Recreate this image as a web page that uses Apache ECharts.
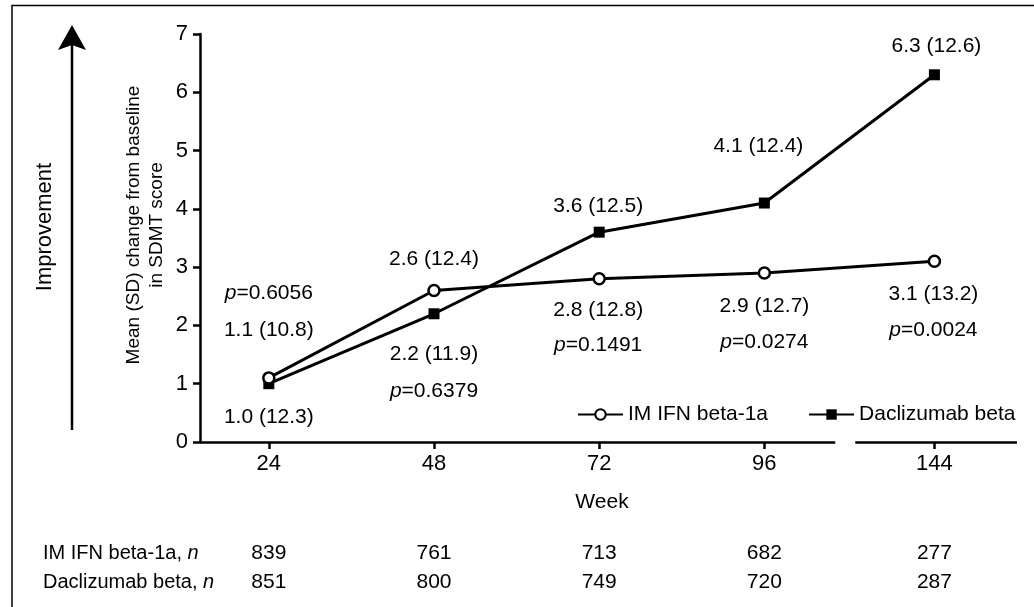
<!DOCTYPE html>
<html>
<head>
<meta charset="utf-8">
<script src="https://cdn.jsdelivr.net/npm/echarts@6/dist/echarts.min.js"></script>
<style>
  html, body { margin: 0; padding: 0; background: #fff; }
  #chart { width: 1034px; height: 607px; }
</style>
</head>
<body>
<div id="chart"></div>
<script>
// SDMT change from baseline by study week
const weeks = [24, 48, 72, 96, 144];
const seriesNames = ['IM IFN beta-1a', 'Daclizumab beta'];
const ifnMean = [1.1, 2.6, 2.8, 2.9, 3.1];
const ifnSD = [10.8, 12.4, 12.8, 12.7, 13.2];
const dacMean = [1.0, 2.2, 3.6, 4.1, 6.3];
const dacSD = [12.3, 11.9, 12.5, 12.4, 12.6];
const pValues = ['0.6056', '0.6379', '0.1491', '0.0274', '0.0024'];
const ifnN = [839, 761, 713, 682, 277];
const dacN = [851, 800, 749, 720, 287];
const rowLabels = ['IM IFN beta-1a, ', 'Daclizumab beta, '];

// Label placement around each marker; p says where the p-value line goes
const ifnLabelPlace = [
  { dx: 0, dy: -66, p: 'before', lh: 37 },
  { dx: 0, dy: -31 },
  { dx: -1, dy: 49, p: 'after', lh: 35 },
  { dx: 0, dy: 51, p: 'after', lh: 36 },
  { dx: -1, dy: 51, p: 'after', lh: 36 }
];
const dacLabelPlace = [
  { dx: 0, dy: 33 },
  { dx: 0, dy: 59, p: 'after', lh: 37 },
  { dx: -1, dy: -26 },
  { dx: -6, dy: -57 },
  { dx: 2, dy: -29 }
];

const FONT = '"Liberation Sans", Arial, Helvetica, sans-serif';
const AXIS_MIN = 14, AXIS_MAX = 156;
const BREAK = { start: 106.3, end: 132.5, gap: '2.45%' };

function labelFor(mean, sd, i, place) {
  const v = '{v|' + mean.toFixed(1) + ' (' + sd.toFixed(1) + ')}';
  const p = '{i|p}{v|=' + pValues[i] + '}';
  let text = v;
  if (place.p === 'before') text = p + '\n' + v;
  if (place.p === 'after') text = v + '\n' + p;
  const lh = place.lh || 24;
  return {
    show: true,
    position: 'inside',
    offset: [place.dx || 0, place.dy],
    formatter: text,
    rich: {
      v: { fontSize: 21, fontFamily: FONT, color: '#000', lineHeight: lh },
      i: { fontSize: 21, fontFamily: FONT, color: '#000', fontStyle: 'italic', lineHeight: lh }
    }
  };
}

function seriesData(means, sds, places) {
  return weeks.map((w, i) => ({ value: [w, means[i]], label: labelFor(means[i], sds[i], i, places[i]) }));
}

function weekAxis(extra) {
  return Object.assign({
    type: 'value',
    position: 'bottom',
    min: AXIS_MIN,
    max: AXIS_MAX,
    breaks: [BREAK],
    breakArea: { show: false },
    splitLine: { show: false },
    axisLine: { show: false },
    axisTick: { show: false },
    axisLabel: {
      customValues: weeks,
      fontSize: 21, fontFamily: FONT, color: '#000', margin: 11
    }
  }, extra);
}

const chart = echarts.init(document.getElementById('chart'), null, { renderer: 'canvas' });

const option = {
  animation: false,
  backgroundColor: '#fff',
  grid: { left: 200, right: 17, top: 34, bottom: 165, containLabel: false, outerBoundsMode: 'none' },
  legend: {
    data: seriesNames,
    left: 572, top: 399,
    itemWidth: 45, itemHeight: 13, itemGap: 40,
    textStyle: { fontSize: 21, fontFamily: FONT, color: '#000' },
    selectedMode: false
  },
  xAxis: [
    weekAxis({
      name: 'Week', nameLocation: 'middle', nameGap: 50,
      nameTextStyle: { fontSize: 21, fontFamily: FONT, color: '#000', padding: [0, 13, 0, 0] },
      axisTick: { show: true, customValues: weeks, length: 7, lineStyle: { color: '#000', width: 2.5 } },
      axisLabel: { customValues: weeks, fontSize: 22, fontFamily: FONT, color: '#000', margin: 11 }
    }),
    weekAxis({
      offset: 90,
      axisLabel: { customValues: weeks, fontSize: 21, fontFamily: FONT, color: '#000', margin: 11,
        formatter: v => String(ifnN[weeks.indexOf(v)]) }
    }),
    weekAxis({
      offset: 119,
      axisLabel: { customValues: weeks, fontSize: 21, fontFamily: FONT, color: '#000', margin: 11,
        formatter: v => String(dacN[weeks.indexOf(v)]) }
    })
  ],
  yAxis: {
    type: 'value', min: 0, max: 7, interval: 1,
    splitLine: { show: false },
    axisLine: { show: true, lineStyle: { color: '#000', width: 2.5 } },
    axisTick: { show: true, length: 7, lineStyle: { color: '#000', width: 2.5 } },
    axisLabel: { fontSize: 22, fontFamily: FONT, color: '#000', margin: 12 }
  },
  series: [
    {
      name: seriesNames[1], type: 'line', xAxisIndex: 0, yAxisIndex: 0,
      data: seriesData(dacMean, dacSD, dacLabelPlace),
      symbol: 'rect', symbolSize: 11,
      itemStyle: { color: '#000' },
      lineStyle: { color: '#000', width: 3 },
      clip: false, silent: true, z: 3
    },
    {
      name: seriesNames[0], type: 'line', xAxisIndex: 0, yAxisIndex: 0,
      data: seriesData(ifnMean, ifnSD, ifnLabelPlace),
      symbol: 'circle', symbolSize: 11,
      itemStyle: { color: '#fff', borderColor: '#000', borderWidth: 2.5 },
      lineStyle: { color: '#000', width: 3 },
      clip: false, silent: true, z: 4,
      // broken week axis: two line segments and the end caps at the gap
      markLine: {
        silent: true, symbol: ['none', 'none'],
        label: { show: false },
        lineStyle: { color: '#000', width: 2.5, type: 'solid' },
        emphasis: { disabled: true },
        data: [
          [{ coord: [AXIS_MIN, 0] }, { coord: [BREAK.start, 0] }],
          [{ coord: [BREAK.end, 0] }, { coord: [AXIS_MAX, 0] }],
          [{ coord: [BREAK.start, -0.1] }, { coord: [BREAK.start, 0.1] }],
          [{ coord: [BREAK.end, -0.1] }, { coord: [BREAK.end, 0.1] }]
        ]
      }
    }
  ],
  graphic: [
    {
      type: 'polyline', silent: true,
      shape: { points: [[12, 607], [12, 5.5], [1034, 5.5]] },
      style: { stroke: '#000', lineWidth: 1.5, fill: null }
    },
    {
      type: 'line', silent: true,
      shape: { x1: 72, y1: 430, x2: 72, y2: 44 },
      style: { stroke: '#000', lineWidth: 2.5 }
    },
    {
      type: 'polygon', silent: true,
      shape: { points: [[72, 25], [86, 50], [72, 45], [58, 50]] },
      style: { fill: '#000' }
    },
    {
      type: 'text', silent: true, x: 45, y: 227, rotation: Math.PI / 2,
      style: { text: 'Improvement', x: 0, y: 0, font: '22px ' + FONT, fill: '#000',
        textAlign: 'center', textVerticalAlign: 'middle' }
    },
    {
      type: 'text', silent: true, x: 145, y: 225, rotation: Math.PI / 2,
      style: { text: 'Mean (SD) change from baseline\nin SDMT score', x: 0, y: 0,
        font: '19px ' + FONT, fill: '#000', lineHeight: 23,
        textAlign: 'center', textVerticalAlign: 'middle' }
    },
    {
      type: 'text', silent: true, x: 43, y: 553,
      style: {
        text: '{t|' + rowLabels[0] + '}{i|n}', x: 0, y: 0, textVerticalAlign: 'middle',
        rich: {
          t: { fontSize: 20, fontFamily: FONT, fill: '#000' },
          i: { fontSize: 20, fontFamily: FONT, fill: '#000', fontStyle: 'italic' }
        }
      }
    },
    {
      type: 'text', silent: true, x: 43, y: 582,
      style: {
        text: '{t|' + rowLabels[1] + '}{i|n}', x: 0, y: 0, textVerticalAlign: 'middle',
        rich: {
          t: { fontSize: 20, fontFamily: FONT, fill: '#000' },
          i: { fontSize: 20, fontFamily: FONT, fill: '#000', fontStyle: 'italic' }
        }
      }
    }
  ]
};

chart.setOption(option);
</script>
</body>
</html>
